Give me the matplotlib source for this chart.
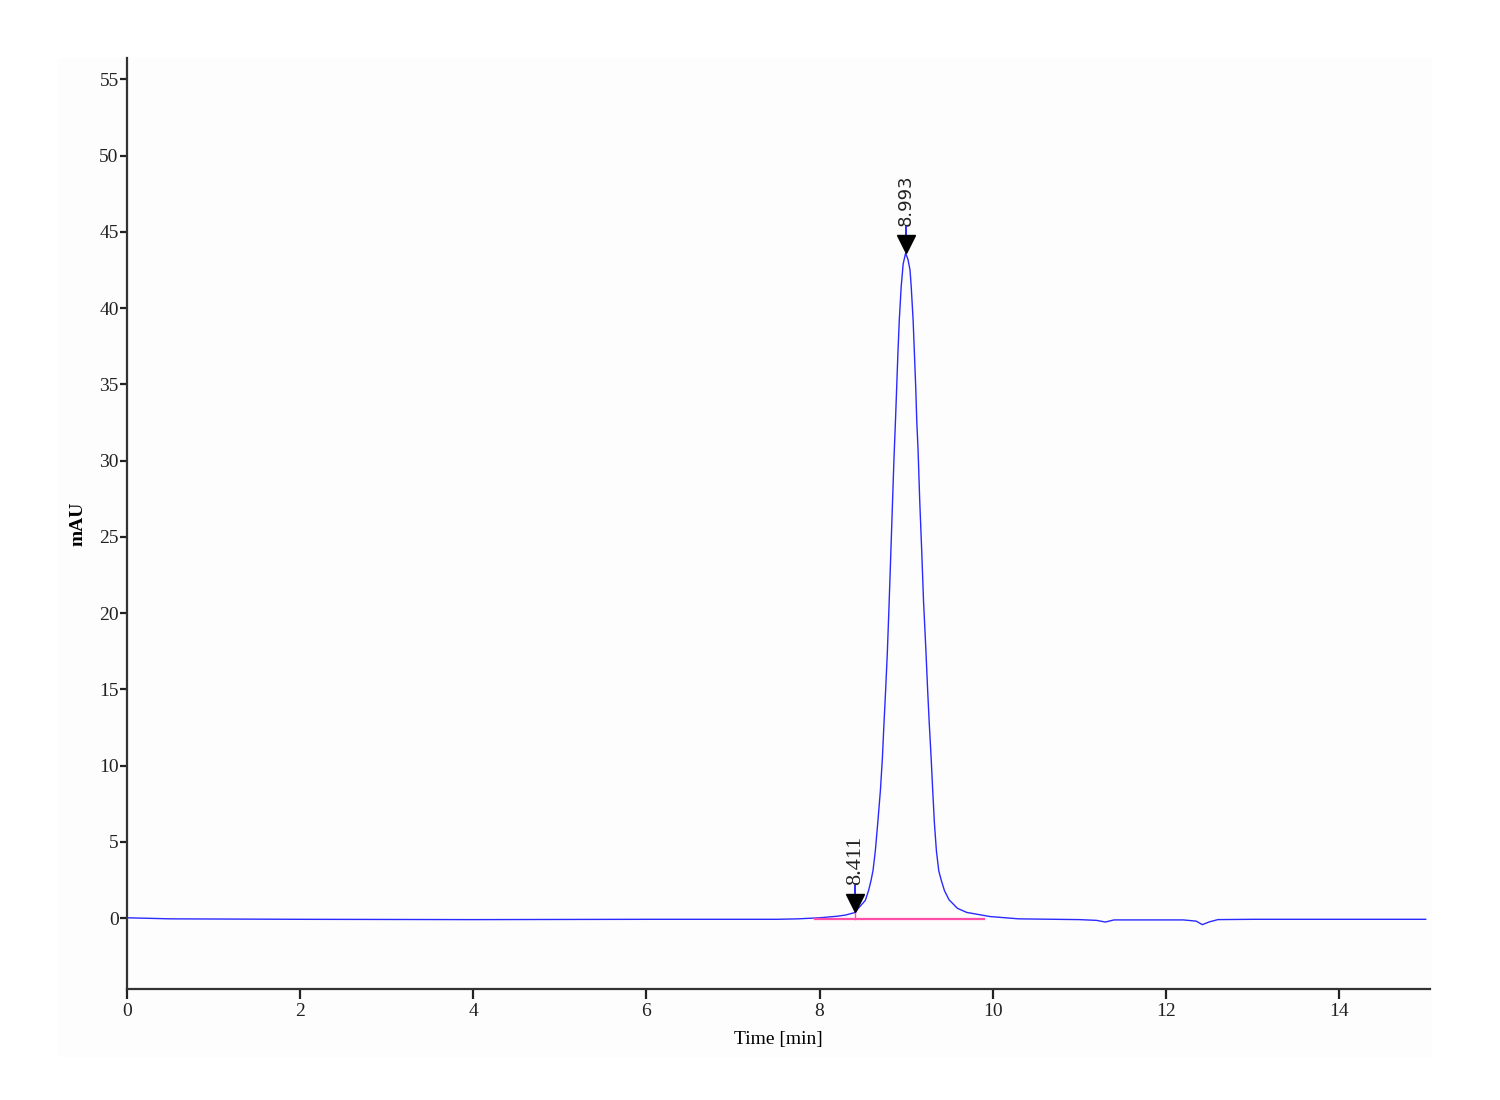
import numpy as np
import matplotlib
from matplotlib import pyplot as plt
from matplotlib import transforms
from matplotlib.patches import Rectangle

# chromatogram trace (time in min, signal in mAU)
time = [0.0, 0.5, 2.0, 4.0, 6.0, 7.5, 7.75, 8.0, 8.2, 8.3, 8.411, 8.447, 8.528,
        8.566, 8.594, 8.617, 8.644, 8.671, 8.702, 8.725, 8.742, 8.762, 8.782,
        8.800, 8.818, 8.838, 8.858, 8.878, 8.890, 8.904, 8.920, 8.942, 8.965,
        8.993, 9.020, 9.044, 9.058, 9.080, 9.095, 9.110, 9.122, 9.137, 9.156,
        9.179, 9.200, 9.228, 9.248, 9.266, 9.288, 9.306, 9.326, 9.349, 9.376,
        9.404, 9.442, 9.495, 9.592, 9.70, 9.97, 10.3, 11.0, 11.2, 11.3, 11.4,
        12.2, 12.35, 12.42, 12.5, 12.6, 13.0, 15.0]
signal = [0.02, -0.05, -0.08, -0.1, -0.08, -0.08, -0.05, 0.02, 0.12, 0.2, 0.37,
          0.64, 1.16, 1.82, 2.47, 3.13, 4.44, 6.21, 8.37, 10.5, 12.6, 14.9, 17.4,
          20.2, 23.2, 26.6, 30.0, 32.9, 34.8, 37.0, 39.2, 41.4, 42.9, 43.6, 43.2,
          42.5, 41.4, 39.2, 37.0, 34.8, 32.6, 30.7, 27.4, 24.1, 20.8, 17.5, 14.9,
          12.8, 10.5, 8.4, 6.2, 4.4, 3.1, 2.5, 1.8, 1.2, 0.64, 0.37, 0.1, -0.05,
          -0.1, -0.15, -0.26, -0.12, -0.12, -0.2, -0.43, -0.25, -0.1, -0.08, -0.08]

# detected peaks
peak_times = [8.411, 8.993]
peak_heights = [0.37, 43.6]
peak_labels = ["8.411", "8.993"]
peak_fonts = ["Liberation Serif", "DejaVu Sans"]
peak_fsizes = [16, 13]

# integration baseline
base_times = [7.95, 9.9]
base_levels = [-0.08, -0.08]

yticks = np.arange(0, 56, 5)
xticks = np.arange(0, 15, 2)

plt.rcParams["font.family"] = ["Liberation Serif", "DejaVu Serif"]

fig = plt.figure(figsize=(15, 11), dpi=100)
fig.patches.append(Rectangle((57 / 1500, 1 - 1057 / 1100), 1375 / 1500, 999 / 1100,
                             transform=fig.transFigure, facecolor="#fdfdfd",
                             edgecolor="none", zorder=-10))
ax = fig.add_axes([127 / 1500, 1 - 989 / 1100, 1303 / 1500, 931 / 1100])
ax.set_facecolor("#fdfdfd")

ax.plot(time, signal, color="#2a2aff", lw=1.0, zorder=3)
ax.plot(base_times, base_levels, color="#ff4fa8", lw=1.6, zorder=4)

# pink drop line at the first peak start
ax.plot([peak_times[0], peak_times[0]], [base_levels[0], peak_heights[0]],
        color="#ff4fa8", lw=1.0, zorder=4)

for t, h, lab, fnt, fs in zip(peak_times, peak_heights, peak_labels, peak_fonts, peak_fsizes):
    tri = transforms.offset_copy(ax.transData, fig=fig, y=9, units="dots")
    ax.plot(t, h, marker="v", markersize=12.5, color="black", transform=tri,
            zorder=5, clip_on=False)
    stem = transforms.offset_copy(ax.transData, fig=fig, y=21, units="dots")
    ax.plot(t, h, marker="|", markersize=8, markeredgewidth=1.4,
            color="#2a2aff", transform=stem, zorder=4, clip_on=False)
    ax.annotate(lab, xy=(t, h), xytext=(0, 27), textcoords="offset pixels",
                rotation=90, ha="center", va="bottom", fontsize=fs,
                family=fnt, color="#222222")

ax.set_xlim(0, 15.05)
ax.set_ylim(-4.65, 56.4)
ax.set_xticks(xticks)
ax.set_yticks(yticks)
ax.tick_params(axis="y", direction="out", length=5, width=1.6, labelsize=14,
               pad=1, colors="#222222")
ax.tick_params(axis="x", direction="out", length=7, width=1.6, labelsize=14,
               pad=3, colors="#222222")
for side in ["top", "right"]:
    ax.spines[side].set_visible(False)
for side in ["left", "bottom"]:
    ax.spines[side].set_color("#333333")
    ax.spines[side].set_linewidth(1.6)

ax.set_xlabel("Time [min]", fontsize=14, labelpad=8)
ax.set_ylabel("mAU", fontsize=14, fontweight="bold", labelpad=9)

plt.savefig("out.png", dpi=100, facecolor="white")
